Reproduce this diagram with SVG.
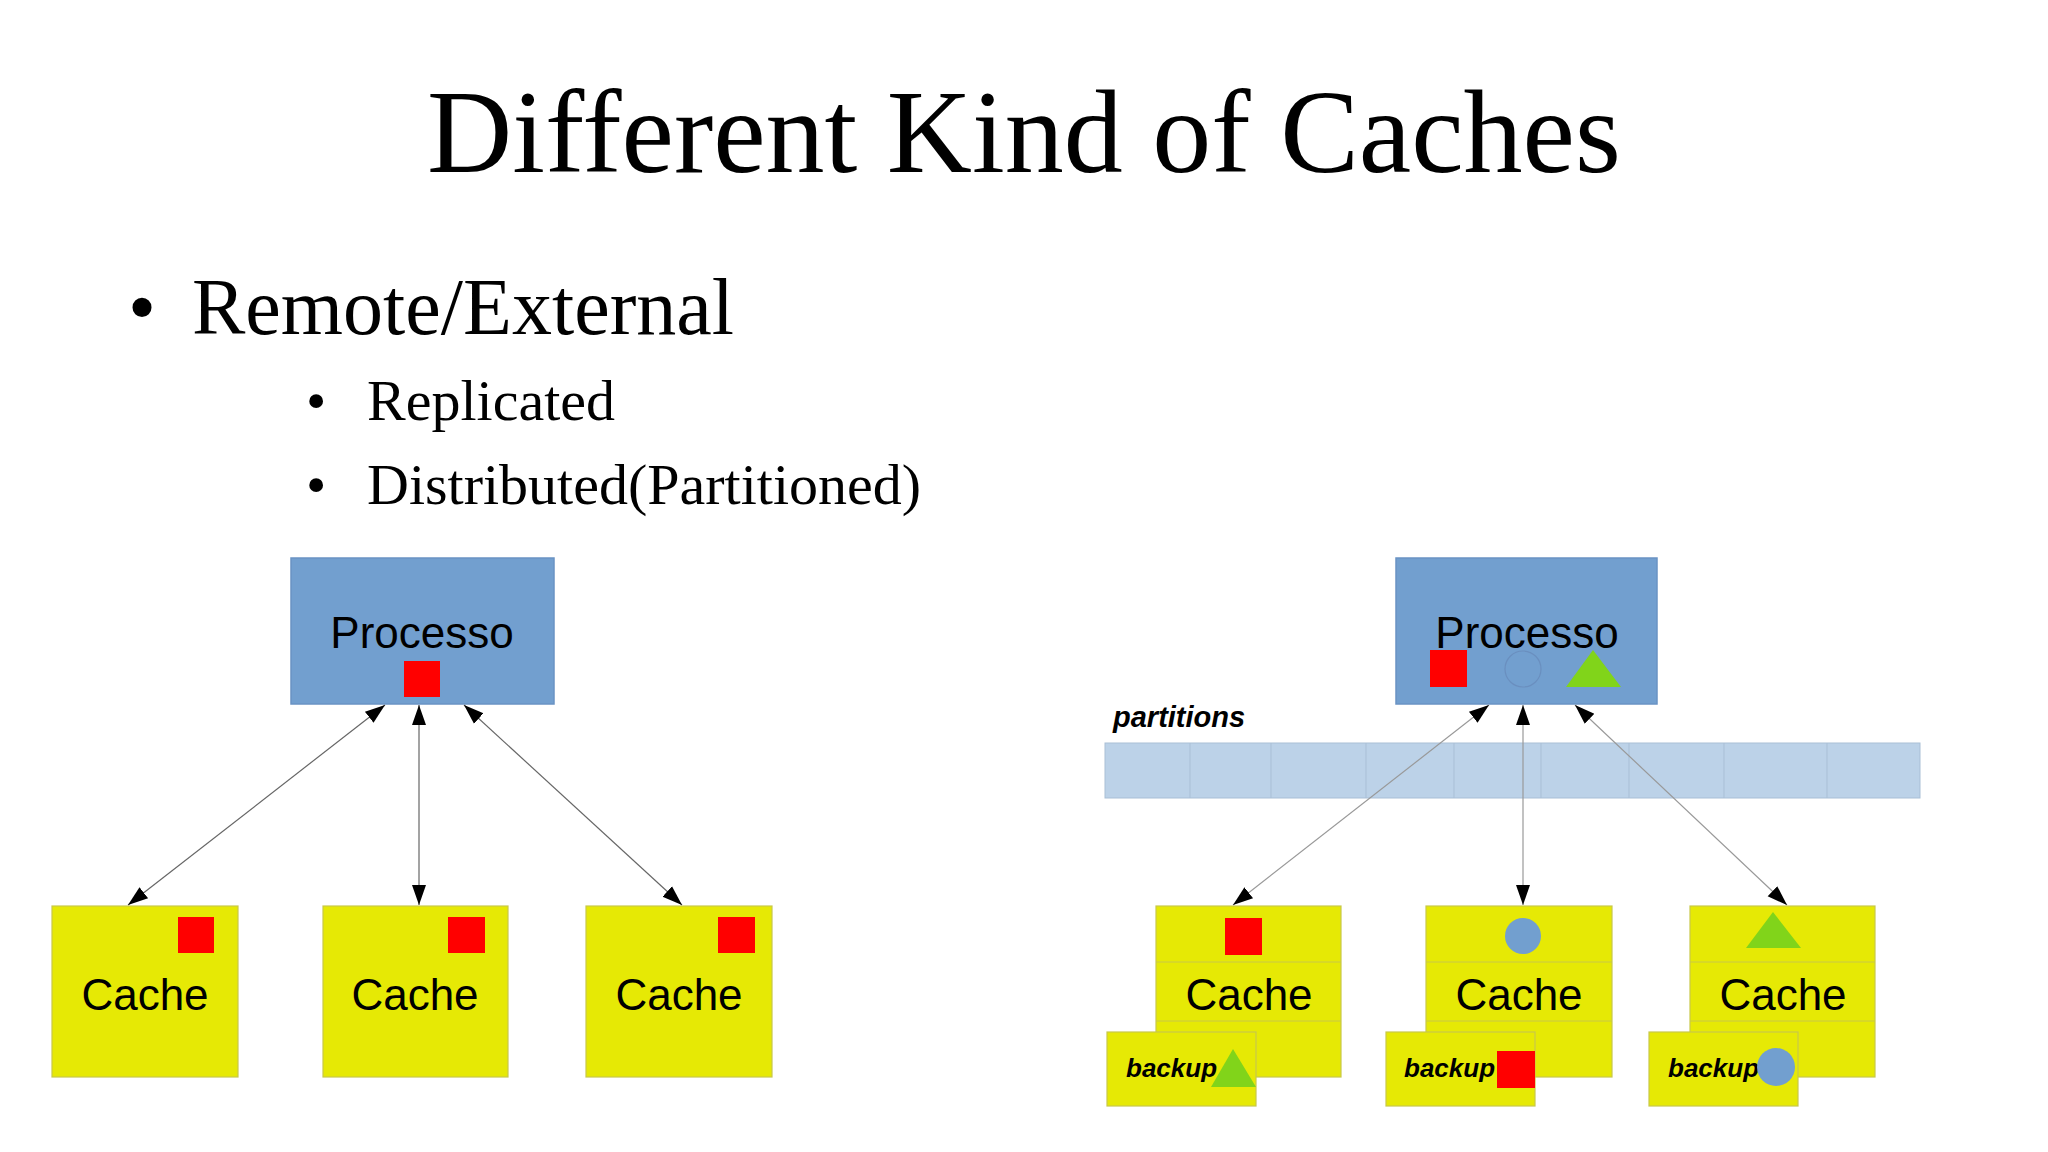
<svg xmlns="http://www.w3.org/2000/svg" width="2048" height="1152" viewBox="0 0 2048 1152">
<style>
.serif{font-family:"Liberation Serif","DejaVu Serif",serif;fill:#000}
.sans{font-family:"Liberation Sans",Arial,sans-serif;fill:#000}
.proc{fill:#729fcf;stroke:#6a93c4;stroke-width:1.5}
.cache{fill:#e6e905;stroke:#c8c84a;stroke-width:1.2}
.red{fill:#ff0000}
.green{fill:#81d41a}
.blue{fill:#729fcf}
.lbl{font-size:44px;text-anchor:middle}
.bk{font-size:26px;font-weight:bold;font-style:italic}
.conn line{stroke:#666;stroke-width:1.2;marker-start:url(#ah);marker-end:url(#ah)}
</style>
<defs>
<marker id="ah" viewBox="0 0 20 20" refX="20" refY="10" markerWidth="20" markerHeight="20" markerUnits="userSpaceOnUse" orient="auto-start-reverse"><path d="M0,3 L20,10 L0,17 Z" fill="#000"/></marker>
</defs>
<rect width="2048" height="1152" fill="#fff"/>
<text class="serif" x="1024" y="172" font-size="118" text-anchor="middle">Different Kind of Caches</text>
<text class="serif" x="128" y="334" font-size="80">•</text>
<text class="serif" x="192" y="334" font-size="80">Remote/External</text>
<text class="serif" x="306" y="420" font-size="58">•</text>
<text class="serif" x="367" y="420" font-size="58">Replicated</text>
<text class="serif" x="306" y="504" font-size="58">•</text>
<text class="serif" x="367" y="504" font-size="58">Distributed(Partitioned)</text>

<g id="left-processo"><rect class="proc" x="291" y="558" width="263" height="146"/><text class="sans lbl" x="422" y="648">Processo</text><rect class="red" x="404" y="661" width="36" height="36"/></g>
<g id="left-cache1"><rect class="cache" x="52" y="906" width="186" height="171"/><rect class="red" x="178" y="917" width="36" height="36"/><text class="sans lbl" x="145" y="1010">Cache</text></g>
<g id="left-cache2"><rect class="cache" x="323" y="906" width="185" height="171"/><rect class="red" x="448" y="917" width="37" height="36"/><text class="sans lbl" x="415" y="1010">Cache</text></g>
<g id="left-cache3"><rect class="cache" x="586" y="906" width="186" height="171"/><rect class="red" x="718" y="917" width="37" height="36"/><text class="sans lbl" x="679" y="1010">Cache</text></g>

<g id="right-processo"><rect class="proc" x="1396" y="558" width="261" height="146"/><text class="sans lbl" x="1527" y="648">Processo</text><rect class="red" x="1430" y="650" width="37" height="37"/><circle cx="1523" cy="669" r="18" fill="none" stroke="#6a8fbf" stroke-width="1.2"/><polygon class="green" points="1566,687 1593,650 1621,687"/></g>
<g id="partitions"><text class="sans" x="1113" y="727" font-size="29" font-weight="bold" font-style="italic">partitions</text><rect x="1105" y="743" width="815" height="55" fill="#bcd2e8" stroke="#a9bfd6" stroke-width="1"/><g stroke="#a9bfd6" stroke-width="1"><line x1="1190" y1="743" x2="1190" y2="798"/><line x1="1271" y1="743" x2="1271" y2="798"/><line x1="1366" y1="743" x2="1366" y2="798"/><line x1="1454" y1="743" x2="1454" y2="798"/><line x1="1541" y1="743" x2="1541" y2="798"/><line x1="1629" y1="743" x2="1629" y2="798"/><line x1="1724" y1="743" x2="1724" y2="798"/><line x1="1827" y1="743" x2="1827" y2="798"/></g></g>

<g id="right-cache1"><rect class="cache" x="1156" y="906" width="185" height="171"/><line x1="1156" y1="962" x2="1341" y2="962" stroke="#c8c84a"/><line x1="1156" y1="1021" x2="1341" y2="1021" stroke="#c8c84a"/><rect class="red" x="1225" y="918" width="37" height="37"/><text class="sans lbl" x="1249" y="1010">Cache</text></g>
<g id="right-cache2"><rect class="cache" x="1426" y="906" width="186" height="171"/><line x1="1426" y1="962" x2="1612" y2="962" stroke="#c8c84a"/><line x1="1426" y1="1021" x2="1612" y2="1021" stroke="#c8c84a"/><circle class="blue" cx="1523" cy="936" r="18"/><text class="sans lbl" x="1519" y="1010">Cache</text></g>
<g id="right-cache3"><rect class="cache" x="1690" y="906" width="185" height="171"/><line x1="1690" y1="962" x2="1875" y2="962" stroke="#c8c84a"/><line x1="1690" y1="1021" x2="1875" y2="1021" stroke="#c8c84a"/><polygon class="green" points="1746,948 1773,912 1801,948"/><text class="sans lbl" x="1783" y="1010">Cache</text></g>
<g id="backup1"><rect class="cache" x="1107" y="1032" width="149" height="74"/><text class="sans bk" x="1126" y="1077">backup</text><polygon class="green" points="1211,1087 1233,1049 1256,1087"/></g>
<g id="backup2"><rect class="cache" x="1386" y="1032" width="149" height="74"/><text class="sans bk" x="1404" y="1077">backup</text><rect class="red" x="1497" y="1051" width="38" height="37"/></g>
<g id="backup3"><rect class="cache" x="1649" y="1032" width="149" height="74"/><text class="sans bk" x="1668" y="1077">backup</text><circle class="blue" cx="1776" cy="1067" r="19"/></g>

<g id="connectors" class="conn">
<line x1="385" y1="705" x2="128" y2="905"/>
<line x1="419" y1="705" x2="419" y2="905"/>
<line x1="464" y1="705" x2="682" y2="905"/>
<line x1="1489" y1="705" x2="1233" y2="905" style="stroke:#999"/>
<line x1="1523" y1="705" x2="1523" y2="905" style="stroke:#999"/>
<line x1="1575" y1="705" x2="1787" y2="905" style="stroke:#999"/>
</g>
</svg>
